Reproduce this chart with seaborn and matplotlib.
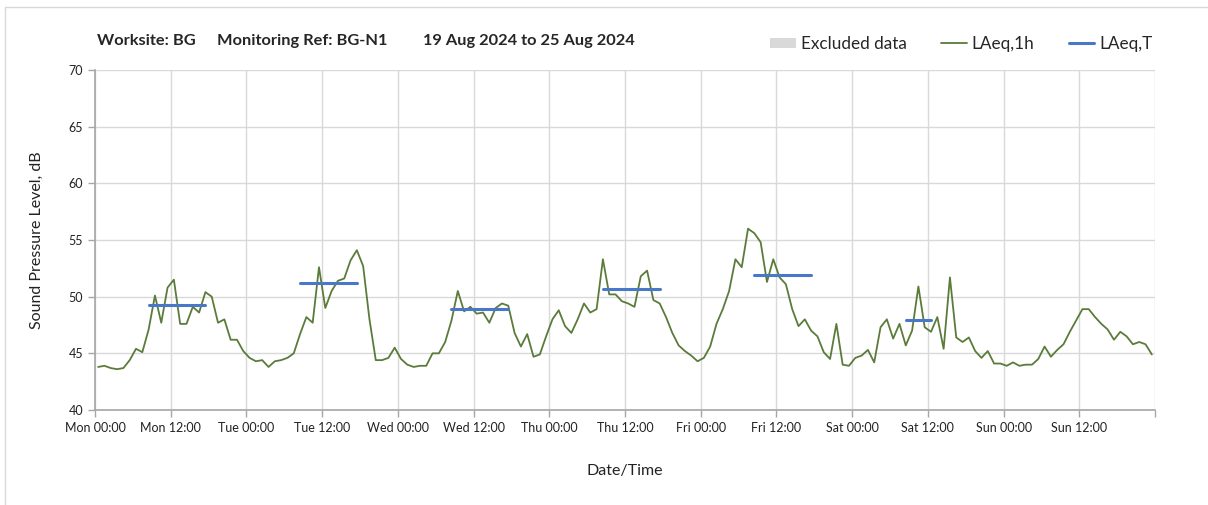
import numpy as np
import matplotlib
matplotlib.use("Agg")
import matplotlib.pyplot as plt
from matplotlib.lines import Line2D
from matplotlib.patches import Patch
import seaborn as sns
import pandas as pd

# hourly LAeq,1h values, Mon 00:00 .. Sun 23:00
mon = [43.8, 43.9, 43.7, 43.6, 43.7, 44.4, 45.4, 45.1, 47.1, 50.1, 47.7, 50.8,
       51.5, 47.6, 47.6, 49.1, 48.6, 50.4, 50.0, 47.7, 48.0, 46.2, 46.2, 45.2]
tue = [44.6, 44.3, 44.4, 43.8, 44.3, 44.4, 44.6, 45.0, 46.7, 48.2, 47.7, 52.6,
       49.0, 50.5, 51.4, 51.6, 53.2, 54.1, 52.7, 48.0, 44.4, 44.4, 44.6, 45.5]
wed = [44.5, 44.0, 43.8, 43.9, 43.9, 45.0, 45.0, 46.0, 47.9, 50.5, 48.7, 49.1,
       48.5, 48.6, 47.7, 49.0, 49.4, 49.2, 46.8, 45.6, 46.7, 44.7, 44.9, 46.5]
thu = [48.0, 48.8, 47.4, 46.8, 48.0, 49.4, 48.6, 48.9, 53.3, 50.2, 50.2, 49.6,
       49.4, 49.1, 51.8, 52.3, 49.7, 49.4, 48.2, 46.8, 45.7, 45.2, 44.8, 44.3]
fri = [44.6, 45.6, 47.6, 48.9, 50.5, 53.3, 52.6, 56.0, 55.6, 54.8, 51.3, 53.3,
       51.7, 51.1, 48.9, 47.4, 48.0, 47.0, 46.5, 45.1, 44.5, 47.6, 44.0, 43.9]
sat = [44.6, 44.8, 45.3, 44.2, 47.3, 48.0, 46.3, 47.6, 45.7, 47.0, 50.9, 47.3,
       46.9, 48.2, 45.4, 51.7, 46.4, 46.0, 46.4, 45.2, 44.6, 45.2, 44.1, 44.1]
sun = [43.9, 44.2, 43.9, 44.0, 44.0, 44.5, 45.6, 44.7, 45.3, 45.8, 46.9, 47.9,
       48.9, 48.9, 48.2, 47.6, 47.1, 46.2, 46.9, 46.5, 45.8, 46.0, 45.8, 44.9]
laeq_1h = mon + tue + wed + thu + fri + sat + sun

# LAeq,T periods: first and last hour index of each period, and level
period_start = [8, 32, 56, 80, 104, 128]
period_end = [17, 41, 65, 89, 113, 132]
period_level = [49.3, 51.2, 48.9, 50.7, 51.9, 47.9]

tick_labels = ["Mon 00:00", "Mon 12:00", "Tue 00:00", "Tue 12:00", "Wed 00:00",
               "Wed 12:00", "Thu 00:00", "Thu 12:00", "Fri 00:00", "Fri 12:00",
               "Sat 00:00", "Sat 12:00", "Sun 00:00", "Sun 12:00", ""]

green = "#5b7b3a"
blue = "#4a78c8"
grid_c = "#d9d9d9"
axis_c = "#a6a6a6"

sns.set_theme(style="whitegrid")
plt.rcParams['font.family'] = ['Lato', 'DejaVu Sans']

df = pd.DataFrame({"hour": np.arange(len(laeq_1h)) + 0.5, "level": laeq_1h})
seg = pd.DataFrame({
    "hour": [h + 0.5 for s, e in zip(period_start, period_end) for h in (s, e)],
    "level": [v for v in period_level for _ in range(2)],
    "period": [i for i in range(len(period_level)) for _ in range(2)],
})

fig = plt.figure(figsize=(12.08, 5.05), dpi=100)
ax = fig.add_axes([95 / 1208, 1 - 410 / 505, 1060 / 1208, 340 / 505])

sns.lineplot(data=df, x="hour", y="level", color=green, linewidth=1.3, ax=ax)
sns.lineplot(data=seg, x="hour", y="level", units="period", estimator=None,
             color=blue, linewidth=2.2, ax=ax)

ax.set_xlim(0, 168)
ax.set_ylim(40, 70)
ax.set_yticks(np.arange(40, 71, 5))
ax.set_xticks(np.arange(0, 169, 12))
ax.set_xticklabels(tick_labels, fontsize=9, color="#222222")
ax.tick_params(axis="y", labelsize=9, labelcolor="#222222")
ax.tick_params(axis="both", which="major", direction="out", length=5,
               color=axis_c, width=1, bottom=True, left=True)
ax.grid(True, color=grid_c, linewidth=1)
for side in ["top", "right"]:
    ax.spines[side].set_visible(False)
for side in ["left", "bottom"]:
    ax.spines[side].set_color(axis_c)
    ax.spines[side].set_linewidth(1.2)
ax.set_facecolor("white")
ax.set_xlabel("Date/Time", fontsize=11.5, labelpad=22, color="#222222")
ax.set_ylabel("Sound Pressure Level, dB", fontsize=11.5, labelpad=18, color="#222222")

# title pieces
ty = 1 - 41 / 505
fig.text(97 / 1208, ty, "Worksite: BG", fontsize=11.8, fontweight="bold", va="center")
fig.text(217 / 1208, ty, "Monitoring Ref: BG-N1", fontsize=11.8, fontweight="bold", va="center")
fig.text(423 / 1208, ty, "19 Aug 2024 to 25 Aug 2024", fontsize=11.8, fontweight="bold", va="center")

handles = [Patch(facecolor="#d9d9d9", edgecolor="none"),
           Line2D([], [], color=green, linewidth=1.3),
           Line2D([], [], color=blue, linewidth=2.2)]
fig.legend(handles, ["Excluded data", "LAeq,1h", "LAeq,T"], ncol=3,
           loc="center right", bbox_to_anchor=(1168 / 1208, 1 - 44 / 505),
           frameon=False, fontsize=12.3, handlelength=1.5, handleheight=0.55,
           handletextpad=0.3, columnspacing=2.0)

# chart frame
fig.add_artist(Line2D([5 / 1208, 5 / 1208], [0, 1 - 7 / 505], color="#d9d9d9", linewidth=1))
fig.add_artist(Line2D([5 / 1208, 1], [1 - 7 / 505, 1 - 7 / 505], color="#d9d9d9", linewidth=1))

fig.savefig("out.png", dpi=100)
